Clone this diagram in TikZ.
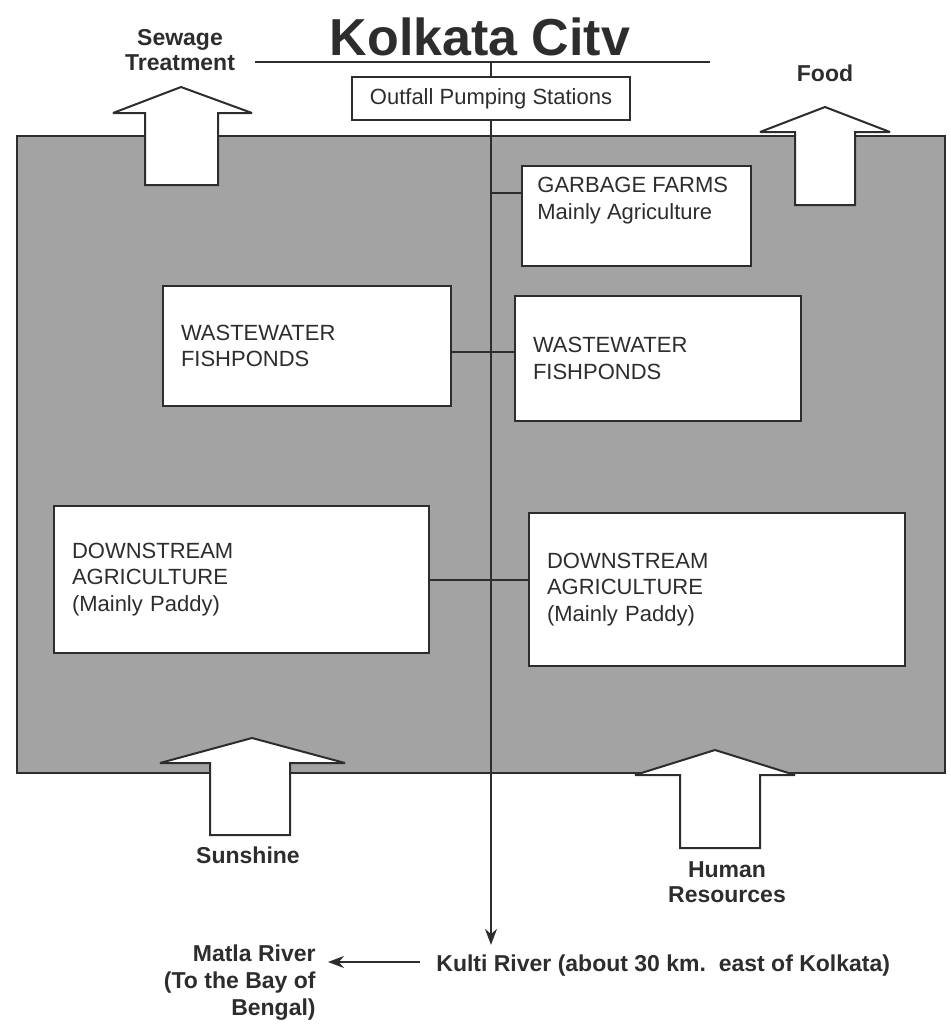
\documentclass[tikz,border=0pt]{standalone}
\usepackage{fontspec}
\setmainfont{Liberation Sans}
\usetikzlibrary{arrows.meta}
\definecolor{graybg}{RGB}{163,163,163}
\definecolor{ink}{RGB}{45,45,45}
\begin{document}
\begin{tikzpicture}[x=0.5pt,y=-0.5pt,
  box/.style={draw=ink, fill=white, line width=1pt, inner xsep=9pt, inner ysep=0pt, align=left, anchor=north west, text=ink, font=\fontsize{11}{13.3}\selectfont},
  boxtext/.style={inner sep=0pt, align=left, anchor=north west, text=ink, font=\fontsize{11}{13.3}\selectfont},
  lbl/.style={inner sep=0pt, text=ink, font=\bfseries\fontsize{11.5}{12.5}\selectfont},
  blk/.style={draw=ink, fill=white, line width=1pt, line join=miter, miter limit=2},
  wire/.style={draw=ink, line width=0.8pt},
  arr/.style={draw=ink, line width=0.8pt, -{Stealth[length=8pt,width=6pt]}}]
\useasboundingbox (0,0) rectangle (951,1025);
% shaded region
\fill[graybg, draw=ink, line width=1pt] (17,136) rectangle (945,773);
% title
\node[inner sep=0pt, text=ink, font=\bfseries\fontsize{26}{28}\selectfont] (title) at (480,37) {Kolkata Citv};
\coordinate (tl) at (255,62);
\coordinate (tr) at (710,62);
\draw[wire] (tl) -- (tr);
% outfall
\node[draw=ink, fill=white, line width=1pt, minimum width=139pt, minimum height=21.5pt, inner sep=0pt, text=ink, font=\fontsize{11}{13.3}\selectfont] (outfall) at (491,98.5) {Outfall Pumping Stations};
\draw[wire] (tl -| outfall) -- (outfall.north);
% boxes
\node[box, minimum width=114.5pt, minimum height=50pt] (gf) at (521,165) {};
\node[boxtext] (gft) at (537,177) {GARBAGE FARMS\\Mainly Agriculture};
\node[box, text width=126pt, minimum height=60pt] (wwl) at (162,285) {WASTEWATER\\FISHPONDS};
\node[box, text width=125pt, minimum height=62.5pt] (wwr) at (514,295) {WASTEWATER\\FISHPONDS};
\node[box, text width=169.5pt, minimum height=73.5pt] (dsl) at (53,505) {DOWNSTREAM\\AGRICULTURE\\(Mainly Paddy)};
\node[box, text width=170pt, minimum height=76.5pt] (dsr) at (528,512) {DOWNSTREAM\\AGRICULTURE\\(Mainly Paddy)};
% block arrows
\draw[blk] (181,87) -- (252,113) -- (218,113) -- (218,185) -- (145,185) -- (145,113) -- (113,113) -- cycle;
\draw[blk] (825,107) -- (890,132) -- (855,132) -- (855,205) -- (795,205) -- (795,132) -- (760,132) -- cycle;
\draw[blk] (252,738) -- (345,763) -- (290,763) -- (290,835) -- (210,835) -- (210,763) -- (160,763) -- cycle;
\draw[blk] (715,750) -- (795,775) -- (760,775) -- (760,848) -- (680,848) -- (680,775) -- (635,775) -- cycle;
% labels
\node[lbl, align=center] (sewage) at (180,50) {Sewage\\Treatment};
\node[lbl] (food) at (825,73) {Food};
\node[lbl] (sun) at (248,855) {Sunshine};
\node[lbl, align=center] (human) at (727,882) {Human\\Resources};
\node[lbl, font=\bfseries\fontsize{11.5}{13.5}\selectfont, align=right, anchor=east] (matla) at (316,983) {Matla River\\(To the Bay of\\Bengal)};
\node[lbl, anchor=west] (kulti) at (436,966) {Kulti River (about 30 km.\ \ east of Kolkata)};
% connectors
\coordinate (j0) at (491,193);
\coordinate (j1) at (491,352);
\coordinate (j2) at (491,580);
\draw[wire] (j0) -- (j0 -| gf.west);
\draw[wire] (j1 -| wwl.east) -- (j1 -| wwr.west);
\draw[wire] (j2 -| dsl.east) -- (j2 -| dsr.west);
\draw[arr] (outfall.south) -- ([yshift=5pt]outfall.south |- kulti.north);
\draw[arr] ([xshift=-8pt,yshift=2pt]kulti.west) -- ([xshift=6pt,yshift=2pt]kulti.west -| matla.east);
\end{tikzpicture}
\end{document}
